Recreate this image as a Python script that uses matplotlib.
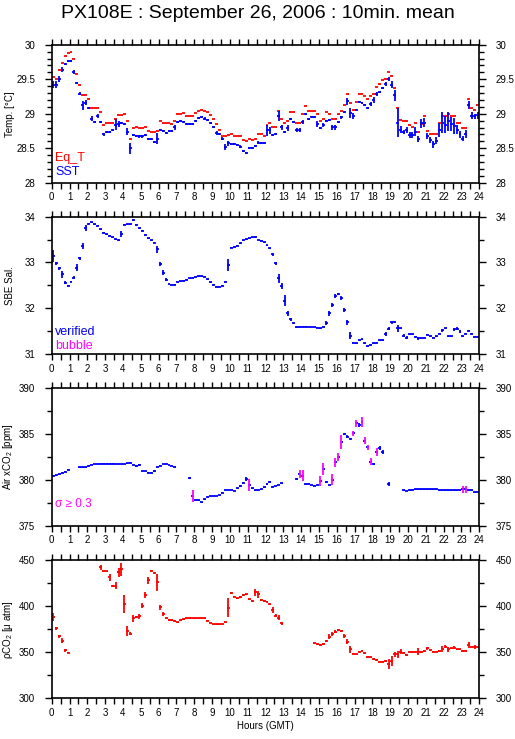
import numpy as np
import matplotlib
matplotlib.use("Agg")
import matplotlib.pyplot as plt
from matplotlib.ticker import MultipleLocator, FormatStrFormatter

plt.rcParams['font.family'] = ['Liberation Sans', 'DejaVu Sans']
plt.rcParams['mathtext.fontset'] = 'custom'
plt.rcParams['mathtext.rm'] = 'Liberation Sans'
plt.rcParams['mathtext.it'] = 'Liberation Sans:italic'

nan = np.nan
title = "PX108E : September 26, 2006 : 10min. mean"
n_bins = 144                     # 10-minute means over 24 h
hour_ticks = list(range(0, 25))

sst = [29.42, 29.42, 29.50, 29.64, 29.72, 29.77, 29.77, 29.61, 29.45, 29.29,
       29.12, 29.16, 29.08, 28.93, 28.88, 28.97, 28.88, 28.70, 28.74, 28.74,
       28.76, 28.84, 28.85, 28.87, 28.85, 28.74, 28.50, 28.69, 28.68, 28.67,
       28.67, 28.69, 28.63, 28.63, 28.59, 28.64, 28.76, 28.75, 28.72, 28.75,
       28.75, 28.80, 28.88, 28.90, 28.88, 28.85, 28.85, 28.85, 28.89, 28.94,
       28.95, 28.93, 28.91, 28.87, 28.81, 28.72, 28.70, 28.64, 28.52, 28.57,
       28.56, 28.56, 28.55, 28.52, 28.46, 28.43, 28.50, 28.50, 28.53, 28.58,
       28.58, 28.57, 28.76, 28.76, 28.69, 28.70, 28.97, 28.80, 28.74, 28.79,
       28.92, 28.88, 28.76, 28.76, 28.88, 29.00, 28.92, 28.95, 28.95, 28.85,
       28.79, 28.84, 28.90, 28.91, 28.80, 28.80, 28.88, 28.95, 29.03, 29.18,
       29.01, 28.97, 29.06, 29.17, 29.15, 29.13, 29.08, 29.14, 29.20, 29.29,
       29.32, 29.37, 29.43, 29.50, 29.42, 29.27, 28.87, 28.77, 28.74, 28.76,
       28.69, 28.69, 28.74, 28.63, 28.86, 28.87, 28.68, 28.62, 28.56, 28.61,
       28.76, 28.87, 28.84, 28.89, 28.85, 28.82, 28.77, 28.70, 28.64, 28.71,
       29.13, 28.97, 28.96, 28.98]
sst_sd = [0.05, 0.05, 0.04, 0.03, 0.015, 0.015, 0.015, 0.03, 0.015, 0.02,
          0.06, 0.04, 0.015, 0.03, 0.02, 0.03, 0.02, 0.02, 0.015, 0.015,
          0.015, 0.08, 0.04, 0.015, 0.015, 0.05, 0.08, 0.015, 0.015, 0.015,
          0.015, 0.015, 0.015, 0.015, 0.015, 0.08, 0.015, 0.015, 0.015, 0.015,
          0.015, 0.03, 0.015, 0.015, 0.015, 0.015, 0.015, 0.015, 0.015, 0.015,
          0.015, 0.015, 0.015, 0.015, 0.015, 0.03, 0.015, 0.02, 0.04, 0.04,
          0.015, 0.015, 0.015, 0.02, 0.015, 0.02, 0.015, 0.015, 0.015, 0.02,
          0.015, 0.015, 0.08, 0.05, 0.015, 0.015, 0.07, 0.04, 0.015, 0.04,
          0.015, 0.015, 0.03, 0.03, 0.03, 0.015, 0.015, 0.015, 0.015, 0.04,
          0.015, 0.03, 0.015, 0.015, 0.03, 0.03, 0.015, 0.02, 0.015, 0.05,
          0.07, 0.04, 0.015, 0.02, 0.015, 0.015, 0.015, 0.03, 0.04, 0.03,
          0.015, 0.015, 0.03, 0.03, 0.05, 0.08, 0.21, 0.05, 0.03, 0.04,
          0.04, 0.04, 0.07, 0.04, 0.07, 0.07, 0.04, 0.04, 0.05, 0.05,
          0.10, 0.15, 0.12, 0.14, 0.10, 0.12, 0.06, 0.05, 0.04, 0.06,
          0.06, 0.05, 0.04, 0.05]
eq_t = [29.53, 29.51, 29.63, 29.74, 29.84, 29.88, 29.89, 29.79, 29.58, 29.42,
        29.27, 29.27, 29.21, 29.08, 29.08, 29.08, 29.02, 28.84, 28.86, 28.87,
        28.87, 28.93, 28.98, 28.98, 29.00, 28.89, 28.63, 28.79, 28.81, 28.79,
        28.79, 28.81, 28.75, 28.74, 28.74, 28.75, 28.89, 28.87, 28.86, 28.86,
        28.85, 28.90, 29.00, 29.00, 29.01, 28.97, 28.97, 28.97, 29.01, 29.04,
        29.06, 29.04, 29.03, 28.98, 28.93, 28.85, 28.77, 28.67, 28.67, 28.69,
        28.70, 28.67, 28.67, 28.67, 28.62, 28.61, 28.63, 28.62, 28.64, 28.70,
        28.70, 28.67, 28.83, 28.86, 28.81, 28.80, 29.04, 28.93, 28.86, 28.89,
        29.02, 29.02, 28.86, 28.87, 28.99, 29.11, 29.04, 29.04, 29.04, 29.00,
        28.89, 28.92, 29.02, 29.00, 28.93, 28.92, 28.99, 29.04, 29.13, 29.29,
        29.16, 29.06, 29.17, 29.28, 29.28, 29.26, 29.21, 29.25, 29.29, 29.39,
        29.43, 29.49, 29.51, 29.60, 29.55, 29.37, 29.08, 28.91, 28.89, 28.89,
        28.83, 28.81, 28.86, 28.73, 28.85, 28.97, 28.75, 28.70, 28.70, 28.70,
        28.86, 28.97, 28.96, 29.00, 28.97, 28.97, 28.87, 28.86, 28.79, 28.79,
        29.22, 29.08, 29.05, 29.13]

sal = [33.14, 32.98, 32.87, 32.74, 32.56, 32.49, 32.58, 32.67, 32.89, 33.09,
       33.36, 33.75, 33.85, 33.88, 33.83, 33.80, 33.73, 33.65, 33.62, 33.58,
       33.55, 33.51, 33.48, 33.62, 33.82, 33.83, 33.83, 33.93, 33.82, 33.75,
       33.69, 33.61, 33.53, 33.48, 33.43, 33.29, 32.97, 32.78, 32.62, 32.53,
       32.51, 32.51, 32.57, 32.59, 32.60, 32.62, 32.65, 32.67, 32.69, 32.70,
       32.70, 32.69, 32.63, 32.57, 32.51, 32.47, 32.47, 32.49, 32.57, 32.94,
       33.32, 33.34, 33.37, 33.42, 33.48, 33.51, 33.53, 33.55, 33.55, 33.49,
       33.47, 33.44, 33.38, 33.31, 33.18, 32.98, 32.65, 32.49, 32.16, 31.89,
       31.76, 31.67, 31.58, 31.60, 31.60, 31.60, 31.59, 31.59, 31.59, 31.57,
       31.56, 31.60, 31.68, 31.89, 32.07, 32.27, 32.31, 32.23, 31.96, 31.69,
       31.40, 31.25, 31.23, 31.30, 31.32, 31.23, 31.17, 31.20, 31.23, 31.25,
       31.30, 31.30, 31.44, 31.55, 31.69, 31.69, 31.56, 31.56, 31.40, 31.36,
       31.43, 31.43, 31.38, 31.34, 31.34, 31.36, 31.42, 31.39, 31.36, 31.39,
       31.44, 31.52, 31.56, 31.39, 31.39, 31.54, 31.55, 31.49, 31.39, 31.44,
       31.51, 31.44, 31.38, 31.38]
sal_sd = [0.13, 0.03, 0.04, 0.08, 0.04, 0.01, 0.01, 0.03, 0.07, 0.04,
          0.06, 0.07, 0.01, 0.01, 0.01, 0.01, 0.01, 0.01, 0.01, 0.01,
          0.01, 0.01, 0.01, 0.07, 0.01, 0.01, 0.01, 0.03, 0.01, 0.01,
          0.01, 0.01, 0.01, 0.01, 0.01, 0.08, 0.04, 0.05, 0.03, 0.01,
          0.01, 0.01, 0.01, 0.01, 0.01, 0.01, 0.01, 0.01, 0.01, 0.01,
          0.01, 0.01, 0.01, 0.01, 0.01, 0.01, 0.01, 0.01, 0.01, 0.13,
          0.01, 0.01, 0.01, 0.01, 0.01, 0.01, 0.01, 0.01, 0.01, 0.01,
          0.01, 0.01, 0.01, 0.01, 0.03, 0.04, 0.10, 0.06, 0.12, 0.05,
          0.03, 0.01, 0.01, 0.01, 0.01, 0.01, 0.01, 0.01, 0.01, 0.01,
          0.01, 0.01, 0.04, 0.05, 0.04, 0.05, 0.03, 0.04, 0.05, 0.06,
          0.07, 0.01, 0.01, 0.01, 0.01, 0.01, 0.01, 0.01, 0.01, 0.01,
          0.01, 0.01, 0.04, 0.03, 0.03, 0.01, 0.07, 0.01, 0.03, 0.03,
          0.01, 0.01, 0.01, 0.03, 0.01, 0.01, 0.01, 0.01, 0.01, 0.01,
          0.01, 0.03, 0.01, 0.01, 0.01, 0.03, 0.03, 0.03, 0.01, 0.01,
          0.01, 0.01, 0.01, 0.01]

air = [380.46, 380.53, 380.68, 380.79, 380.90, 381.12, nan, nan, nan, 381.37,
       381.37, 381.37, 381.55, 381.63, 381.74, 381.74, 381.77, 381.77, 381.77, 381.77,
       381.77, 381.74, 381.74, 381.74, 381.74, 381.80, 381.88, 381.63, 381.52, 381.63,
       380.97, 380.97, 380.79, 380.79, 380.97, 381.44, 381.55, 381.74, 381.74, 381.63,
       381.52, 381.44, nan, nan, nan, nan, 380.24, 378.24, 377.80, 377.77,
       377.55, 377.91, 378.10, 378.24, 378.24, 378.24, 378.35, 378.61, 378.90, 378.90,
       378.90, 378.79, 379.08, 379.37, 379.63, 380.10, 379.44, 379.08, 378.86, 378.86,
       378.97, 379.19, 379.52, 379.73, 379.26, 379.33, 379.44, 379.63, nan, nan,
       nan, nan, 380.10, 380.61, 380.46, 379.52, 379.59, 379.44, 379.37, 379.44,
       379.88, 381.15, 379.73, 379.44, 379.99, 381.92, 382.50, 384.10, 384.98, 384.72,
       384.47, 385.09, 386.18, 386.00, 386.29, 384.28, 383.56, 381.99, 381.70, 383.01,
       383.45, 383.08, nan, 379.52, nan, nan, nan, nan, 378.86, 378.79,
       378.86, 378.93, 379.00, 379.00, 378.97, 378.97, 379.00, 379.00, 379.00, 378.97,
       378.86, 378.86, 378.86, 378.86, 378.86, 378.86, 378.86, 378.86, 378.97, 378.97,
       378.86, 378.86, 378.64, 378.64]
air_sd = [0.05, 0.05, 0.05, 0.05, 0.05, 0.05, nan, nan, nan, 0.05,
          0.05, 0.05, 0.05, 0.05, 0.05, 0.05, 0.05, 0.05, 0.05, 0.05,
          0.05, 0.05, 0.05, 0.05, 0.05, 0.05, 0.05, 0.05, 0.15, 0.15,
          0.05, 0.05, 0.05, 0.05, 0.1, 0.05, 0.05, 0.05, 0.05, 0.05,
          0.05, 0.05, nan, nan, nan, nan, 0.12, 0.67, 0.05, 0.05,
          0.05, 0.05, 0.05, 0.05, 0.05, 0.05, 0.05, 0.05, 0.05, 0.05,
          0.05, 0.05, 0.05, 0.1, 0.1, 0.2, 0.70, 0.05, 0.05, 0.05,
          0.05, 0.05, 0.12, 0.1, 0.05, 0.05, 0.05, 0.05, nan, nan,
          nan, nan, 0.1, 0.45, 0.60, 0.05, 0.05, 0.05, 0.05, 0.05,
          0.55, 0.65, 0.1, 0.05, 0.60, 0.50, 0.40, 0.75, 0.1, 0.15,
          0.05, 0.30, 0.40, 0.20, 0.55, 0.35, 0.30, 0.35, 0.1, 0.45,
          0.2, 0.2, nan, 0.2, nan, nan, nan, nan, 0.05, 0.05,
          0.05, 0.05, 0.05, 0.05, 0.05, 0.05, 0.05, 0.05, 0.05, 0.05,
          0.05, 0.05, 0.05, 0.05, 0.05, 0.05, 0.05, 0.05, 0.35, 0.35,
          0.05, 0.05, 0.05, 0.05]

pco2 = [388.0, 376.1, 367.4, 362.7, 352.2, 349.6, nan, nan, nan, nan,
        nan, nan, nan, nan, nan, nan, 442.4, 438.0, 438.0, 431.5,
        422.1, 422.5, 437.0, 440.2, 402.2, 373.2, 370.3, 387.0, 388.4, 389.1,
        400.7, 412.3, 428.3, 438.0, 435.9, 426.1, 398.9, 391.3, 387.0, 385.1,
        385.1, 384.1, 382.6, 385.1, 386.2, 387.0, 387.0, 387.0, 387.0, 387.0,
        387.0, 387.0, 384.4, 382.2, 380.4, 380.4, 380.4, 380.4, 382.6, 398.6,
        414.1, 410.5, 408.7, 410.1, 412.3, 413.0, 407.6, 405.8, 415.2, 413.0,
        406.9, 405.8, 405.1, 402.2, 396.0, 389.9, 387.7, 381.5, nan, nan,
        nan, nan, nan, nan, nan, nan, nan, nan, 359.8, 359.1,
        358.0, 359.1, 362.3, 367.0, 369.6, 372.5, 374.3, 373.2, 367.8, 361.6,
        353.3, 348.6, 348.6, 350.7, 351.8, 349.0, 345.3, 344.6, 342.8, 341.7,
        339.9, 339.9, 340.6, 337.3, 340.6, 347.8, 347.8, 350.7, 349.0, 347.1,
        350.0, 350.7, 350.7, 350.7, 350.0, 351.4, 354.3, 352.2, 350.7, 350.7,
        351.4, 353.6, 356.2, 353.3, 354.3, 355.1, 353.3, 353.3, 351.4, 351.4,
        358.0, 356.2, 355.4, 356.2]
pco2_sd = [4.5, 1.5, 1.5, 3.0, 1.5, 0.8, nan, nan, nan, nan,
           nan, nan, nan, nan, nan, nan, 2.5, 0.8, 0.8, 4.0,
           1.5, 3.5, 5.0, 7.0, 10.0, 5.0, 1.5, 4.0, 1.5, 2.5,
           2.5, 3.0, 4.0, 1.0, 0.8, 9.0, 3.0, 2.0, 0.8, 0.8,
           0.8, 0.8, 0.8, 0.8, 0.8, 0.8, 0.8, 0.8, 0.8, 0.8,
           0.8, 0.8, 0.8, 0.8, 0.8, 0.8, 0.8, 0.8, 0.8, 10.0,
           1.0, 0.8, 0.8, 0.8, 1.5, 0.8, 0.8, 1.0, 4.0, 4.0,
           0.8, 0.8, 0.8, 0.8, 3.0, 2.0, 2.5, 1.5, nan, nan,
           nan, nan, nan, nan, nan, nan, nan, nan, 0.8, 0.8,
           0.8, 0.8, 0.8, 3.0, 2.0, 2.0, 0.8, 0.8, 2.0, 3.0,
           4.0, 0.8, 0.8, 0.8, 0.8, 0.8, 0.8, 0.8, 0.8, 0.8,
           0.8, 0.8, 0.8, 5.0, 5.0, 2.5, 4.0, 3.0, 0.8, 0.8,
           0.8, 0.8, 0.8, 4.0, 0.8, 0.8, 2.0, 0.8, 0.8, 0.8,
           0.8, 3.0, 2.0, 3.0, 0.8, 2.0, 0.8, 0.8, 0.8, 0.8,
           3.0, 0.8, 2.0, 0.8]

sigma_flag = 0.3

BLUE = '#0000ff'
RED = '#ff0000'
MAG = '#ff00ff'

hours = (np.arange(n_bins) + 0.5) / 6.0
half = 1.0 / 12.0

W, H = 515, 739
fig = plt.figure(figsize=(W / 100, H / 100), dpi=100)

# pixel boxes: (top, bottom)
boxes = [(44.7, 182.7), (216.7, 354.0), (388.3, 525.7), (560.3, 698.3)]
left_px, right_px = 51.7, 479.3
axes = []
for top, bot in boxes:
    ax = fig.add_axes([left_px / W, 1 - bot / H, (right_px - left_px) / W, (bot - top) / H])
    axes.append(ax)

lw = 1.3


def style(ax, ylim, major, minor, label):
    ax.set_xlim(0, 24)
    ax.set_ylim(*ylim)
    ax.set_xticks(hour_ticks)
    ax.xaxis.set_minor_locator(MultipleLocator(0.5))
    ax.yaxis.set_major_locator(MultipleLocator(major))
    ax.yaxis.set_minor_locator(MultipleLocator(minor))
    ax.yaxis.set_major_formatter(FormatStrFormatter('%g'))
    ax.tick_params(axis='both', which='both', direction='out', top=True, right=True,
                   labelright=True, labelsize=7, width=1.0, colors='black')
    ax.tick_params(axis='x', which='both', length=4.5, pad=2.5)
    ax.tick_params(axis='y', which='major', length=5, pad=7)
    ax.tick_params(axis='y', which='minor', length=3.5)
    for s in ax.spines.values():
        s.set_linewidth(1.2)
    ax.set_ylabel(label, fontsize=7)
    ax.yaxis.set_label_coords(-0.085, 0.5)


def hbar(ax, y, color):
    ax.errorbar(hours, y, xerr=half, fmt='none', ecolor=color, elinewidth=lw, capsize=0)


def vbar(ax, y, sd, color):
    ax.errorbar(hours, y, yerr=sd, fmt='none', ecolor=color, elinewidth=lw, capsize=0)


# Panel 1: temperatures
ax = axes[0]
hbar(ax, eq_t, RED)
hbar(ax, sst, BLUE)
vbar(ax, sst, sst_sd, BLUE)
style(ax, (28, 30), 0.5, 0.1, 'Temp. [°C]')
ax.text(0.008, 0.179, 'Eq_T', color=RED, fontsize=9, transform=ax.transAxes, va='center')
ax.text(0.008, 0.074, 'SST', color=BLUE, fontsize=9, transform=ax.transAxes, va='center')

# Panel 2: salinity
ax = axes[1]
hbar(ax, sal, BLUE)
vbar(ax, sal, sal_sd, BLUE)
style(ax, (31, 34), 1, 0.5, 'SBE Sal.')
ax.text(0.008, 0.16, 'verified', color=BLUE, fontsize=9, transform=ax.transAxes, va='center')
ax.text(0.008, 0.058, 'bubble', color=MAG, fontsize=9, transform=ax.transAxes, va='center')

# Panel 3: air xCO2
ax = axes[2]
air_a = np.array(air)
sd_a = np.array(air_sd)
flag = sd_a >= sigma_flag
hbar(ax, air_a, BLUE)
ax.errorbar(hours[~flag], air_a[~flag], yerr=sd_a[~flag], fmt='none', ecolor=BLUE,
            elinewidth=lw, capsize=0)
ax.errorbar(hours[flag], air_a[flag], yerr=sd_a[flag], fmt='none', ecolor=MAG,
            elinewidth=lw, capsize=0)
style(ax, (375, 390), 5, 2.5, 'Air xCO$_2$ [ppm]')
ax.text(0.008, 0.158, 'σ ≥ 0.3', color=MAG, fontsize=8.5, transform=ax.transAxes, va='center')

# Panel 4: pCO2
ax = axes[3]
hbar(ax, pco2, RED)
vbar(ax, pco2, pco2_sd, RED)
style(ax, (300, 450), 50, 25, 'ρCO$_2$ [μ atm]')
ax.set_xlabel('Hours (GMT)', fontsize=7, labelpad=2)

fig.text(0.5, 1 - 13 / H, title, ha='center', va='center', fontsize=14)

fig.savefig('out.png', dpi=100)
